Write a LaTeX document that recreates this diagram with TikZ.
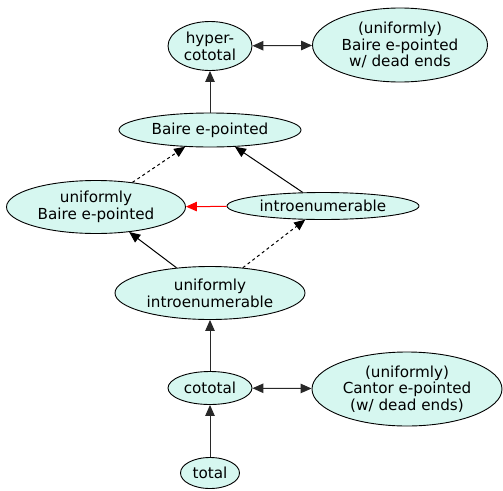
\documentclass[tikz,border=0pt]{standalone}
\usepackage{fontspec}
\setmainfont{DejaVu Sans}
\usetikzlibrary{shapes.geometric, arrows.meta}
\definecolor{propfill}{RGB}{214, 247, 240}
\definecolor{edgegray}{RGB}{40, 40, 40}

\begin{document}
\begin{tikzpicture}[x=1pt, y=-1pt,
    prop/.style={draw=black, fill=propfill, ellipse, inner sep=0pt, align=center,
      font=\fontsize{15.2}{16.7}\selectfont, line width=0.9pt},
    imp/.style={draw=edgegray, line width=1pt, -{Triangle[length=11pt, width=9.5pt]}},
    equiv/.style={draw=edgegray, line width=1pt, {Triangle[length=11pt, width=9.5pt]}-{Triangle[length=11pt, width=9.5pt]}}]
  \useasboundingbox (0, 0) rectangle (503, 490);

  % top row
  \node[prop, minimum width=84pt, minimum height=49pt] (hcot) at (210, 46) {hyper-\\cototal};
  \node[prop, minimum width=175pt, minimum height=74pt] (bdead) at (400, 45) {(uniformly)\\Baire e-pointed\\w/ dead ends};

  % middle
  \node[prop, minimum width=182pt, minimum height=34pt] (bep) at (210, 130) {Baire e-pointed};
  \node[prop, minimum width=179pt, minimum height=53pt] (ubep) at (96, 207) {uniformly\\Baire e-pointed};
  \node[prop, minimum width=192pt, minimum height=27pt] (intro) at (323, 206) {introenumerable};
  \node[prop, minimum width=190pt, minimum height=53pt] (uintro) at (210, 293) {uniformly\\introenumerable};

  % bottom
  \node[prop, minimum width=84pt, minimum height=33pt] (cot) at (210, 388) {cototal};
  \node[prop, minimum width=190pt, minimum height=74pt] (cdead) at (407, 389) {(uniformly)\\Cantor e-pointed\\(w/ dead ends)};
  \node[prop, minimum width=59pt, minimum height=31pt] (tot) at (210, 473) {total};

  % implications
  \draw[imp] (bep) -- (hcot);
  \draw[equiv] (hcot) -- (bdead);
  \draw[imp, dashed, draw=black] (ubep) -- (bep);
  \draw[imp, draw=black] (intro) -- (bep);
  \draw[imp, draw=red, red] (intro) -- (ubep);
  \draw[imp, draw=black] (uintro) -- (ubep);
  \draw[imp, dashed, draw=black] (uintro) -- (intro);
  \draw[imp] (cot) -- (uintro);
  \draw[equiv] (cot) -- (cdead);
  \draw[imp] (tot) -- (cot);
\end{tikzpicture}
\end{document}
